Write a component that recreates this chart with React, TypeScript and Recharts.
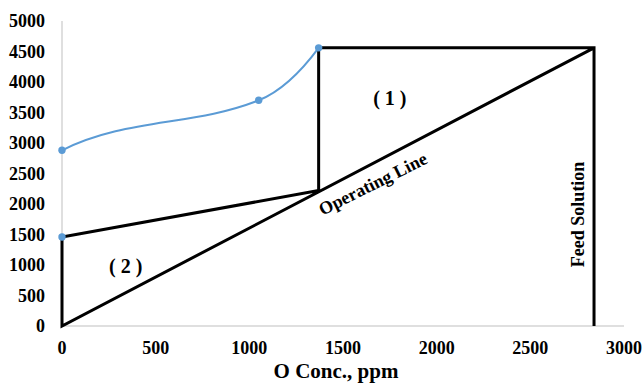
import React from "react";
import { ComposedChart, Line, XAxis, YAxis, ReferenceDot, Label } from "recharts";

// ---------------------------------------------------------------------------
// Data
// ---------------------------------------------------------------------------

const X_TICKS = [0, 500, 1000, 1500, 2000, 2500, 3000];
const Y_TICKS = [0, 500, 1000, 1500, 2000, 2500, 3000, 3500, 4000, 4500, 5000];

// equilibrium curve (blue, smoothed)
const curveX = [0, 1050, 1370];
const curveY = [2880, 3700, 4560];

// lone marker on the y axis
const markX = [0];
const markY = [1460];

// construction lines, drawn in order as one path
const pathX = [2840, 2840, 1370, 1370, 0, 0, 2840];
const pathY = [0, 4560, 4560, 2220, 1460, 0, 4560];

const curveData = curveX.map((x, i) => ({ x, y: curveY[i] }));
const markData = markX.map((x, i) => ({ x, y: markY[i] }));
const pathData = pathX.map((x, i) => ({ x, y: pathY[i] }));

// axis lines drawn as series so the black path sits on top of them
const yAxisLine = [{ x: 0, y: 0 }, { x: 0, y: 5000 }];
const xAxisLine = [{ x: 0, y: 0 }, { x: 3000, y: 0 }];

// annotations placed in data units
const NOTES = [
  { text: "( 1 )", x: 1750, y: 3740, angle: 0, size: 20 },
  { text: "( 2 )", x: 340, y: 985, angle: 0, size: 20 },
  { text: "Operating Line", x: 1660, y: 2330, angle: -26.5, size: 18 },
  { text: "Feed Solution", x: 2755, y: 1830, angle: -90, size: 18 },
];

const BLUE = "#5B9BD5";
const AXIS = "#BFBFBF";
const FONT = "'Liberation Serif', 'Times New Roman', serif";

// ---------------------------------------------------------------------------
// Excel-ish smoothing: cubic Hermite, interior tangents from neighbours
// ---------------------------------------------------------------------------

// eslint-disable-next-line @typescript-eslint/no-explicit-any
function excelSmooth(context: any) {
  let xs: number[] = [];
  let ys: number[] = [];
  return {
    areaStart() {},
    areaEnd() {},
    lineStart() {
      xs = [];
      ys = [];
    },
    lineEnd() {
      const n = xs.length;
      if (!n) return;
      context.moveTo(xs[0], ys[0]);
      if (n < 3) {
        for (let i = 1; i < n; i++) context.lineTo(xs[i], ys[i]);
        return;
      }
      const s: number[] = [];
      const m: number[] = [];
      for (let i = 0; i < n - 1; i++) s[i] = (ys[i + 1] - ys[i]) / (xs[i + 1] - xs[i]);
      for (let i = 1; i < n - 1; i++) m[i] = (ys[i + 1] - ys[i - 1]) / (xs[i + 1] - xs[i - 1]);
      m[0] = 1.25 * m[1];
      m[n - 1] = 2 * s[n - 2] - m[n - 2];
      for (let i = 0; i < n - 1; i++) {
        const h = xs[i + 1] - xs[i];
        context.bezierCurveTo(
          xs[i] + h / 3,
          ys[i] + (m[i] * h) / 3,
          xs[i + 1] - h / 3,
          ys[i + 1] - (m[i + 1] * h) / 3,
          xs[i + 1],
          ys[i + 1]
        );
      }
    },
    point(x: number, y: number) {
      xs.push(+x);
      ys.push(+y);
    },
  };
}

// ---------------------------------------------------------------------------
// Text helpers
// ---------------------------------------------------------------------------

function noteLabel(text: string, angle: number, size: number) {
  // eslint-disable-next-line @typescript-eslint/no-explicit-any
  return (props: any) => {
    const vb = props.viewBox || {};
    const cx = (vb.x ?? 0) + (vb.width ?? 0) / 2;
    const cy = (vb.y ?? 0) + (vb.height ?? 0) / 2;
    return (
      <text
        x={cx}
        y={cy}
        transform={angle ? `rotate(${angle} ${cx} ${cy})` : undefined}
        textAnchor="middle"
        dominantBaseline="central"
        fontFamily={FONT}
        fontWeight="bold"
        fontSize={size}
        fill="#000"
      >
        {text}
      </text>
    );
  };
}

// eslint-disable-next-line @typescript-eslint/no-explicit-any
function XTick({ x, y, payload }: any) {
  return (
    <text
      x={x}
      y={y + 28}
      textAnchor="middle"
      fontFamily={FONT}
      fontWeight="bold"
      fontSize={18}
      fill="#000"
    >
      {payload.value}
    </text>
  );
}

// eslint-disable-next-line @typescript-eslint/no-explicit-any
function YTick({ x, y, payload }: any) {
  return (
    <text
      x={x - 17}
      y={y + 6}
      textAnchor="end"
      fontFamily={FONT}
      fontWeight="bold"
      fontSize={18}
      fill="#000"
    >
      {payload.value}
    </text>
  );
}

export default function App() {
  return (
    <div style={{ position: "absolute", left: 0, top: 0, background: "#fff" }}>
      <ComposedChart
        width={644}
        height={385}
        margin={{ top: 21, right: 20, bottom: 0, left: 0 }}
      >
        <XAxis
          type="number"
          dataKey="x"
          domain={[0, 3000]}
          ticks={X_TICKS}
          interval={0}
          height={59}
          axisLine={false}
          tickLine={false}
          tickSize={0}
          tickMargin={0}
          tick={<XTick />}
        >
          <Label
            value="O Conc., ppm"
            position="insideBottom"
            offset={7}
            dx={-7}
            style={{ fill: "#000", fontSize: 21, fontWeight: "bold", fontFamily: FONT }}
          />
        </XAxis>
        <YAxis
          type="number"
          dataKey="y"
          domain={[0, 5000]}
          ticks={Y_TICKS}
          interval={0}
          width={62}
          axisLine={false}
          tickLine={false}
          tickSize={0}
          tickMargin={0}
          tick={<YTick />}
        />
        <Line
          data={yAxisLine}
          dataKey="y"
          type="linear"
          stroke={AXIS}
          strokeWidth={1}
          dot={false}
          activeDot={false}
          isAnimationActive={false}
        />
        <Line
          data={xAxisLine}
          dataKey="y"
          type="linear"
          stroke={AXIS}
          strokeWidth={1}
          dot={false}
          activeDot={false}
          isAnimationActive={false}
        />
        <Line
          data={pathData}
          dataKey="y"
          type="linear"
          stroke="#000"
          strokeWidth={3}
          strokeLinejoin="miter"
          dot={false}
          activeDot={false}
          isAnimationActive={false}
        />
        <Line
          data={curveData}
          dataKey="y"
          type={excelSmooth as any}
          stroke={BLUE}
          strokeWidth={2}
          dot={{ r: 3.7, fill: BLUE, stroke: BLUE, strokeWidth: 0 }}
          activeDot={false}
          isAnimationActive={false}
        />
        <Line
          data={markData}
          dataKey="y"
          stroke={BLUE}
          strokeWidth={2}
          dot={{ r: 3.7, fill: BLUE, stroke: BLUE, strokeWidth: 0 }}
          activeDot={false}
          isAnimationActive={false}
        />
        {NOTES.map((n) => (
          <ReferenceDot
            key={n.text}
            x={n.x}
            y={n.y}
            r={1}
            fill="none"
            stroke="none"
            label={noteLabel(n.text, n.angle, n.size)}
          />
        ))}
      </ComposedChart>
    </div>
  );
}
